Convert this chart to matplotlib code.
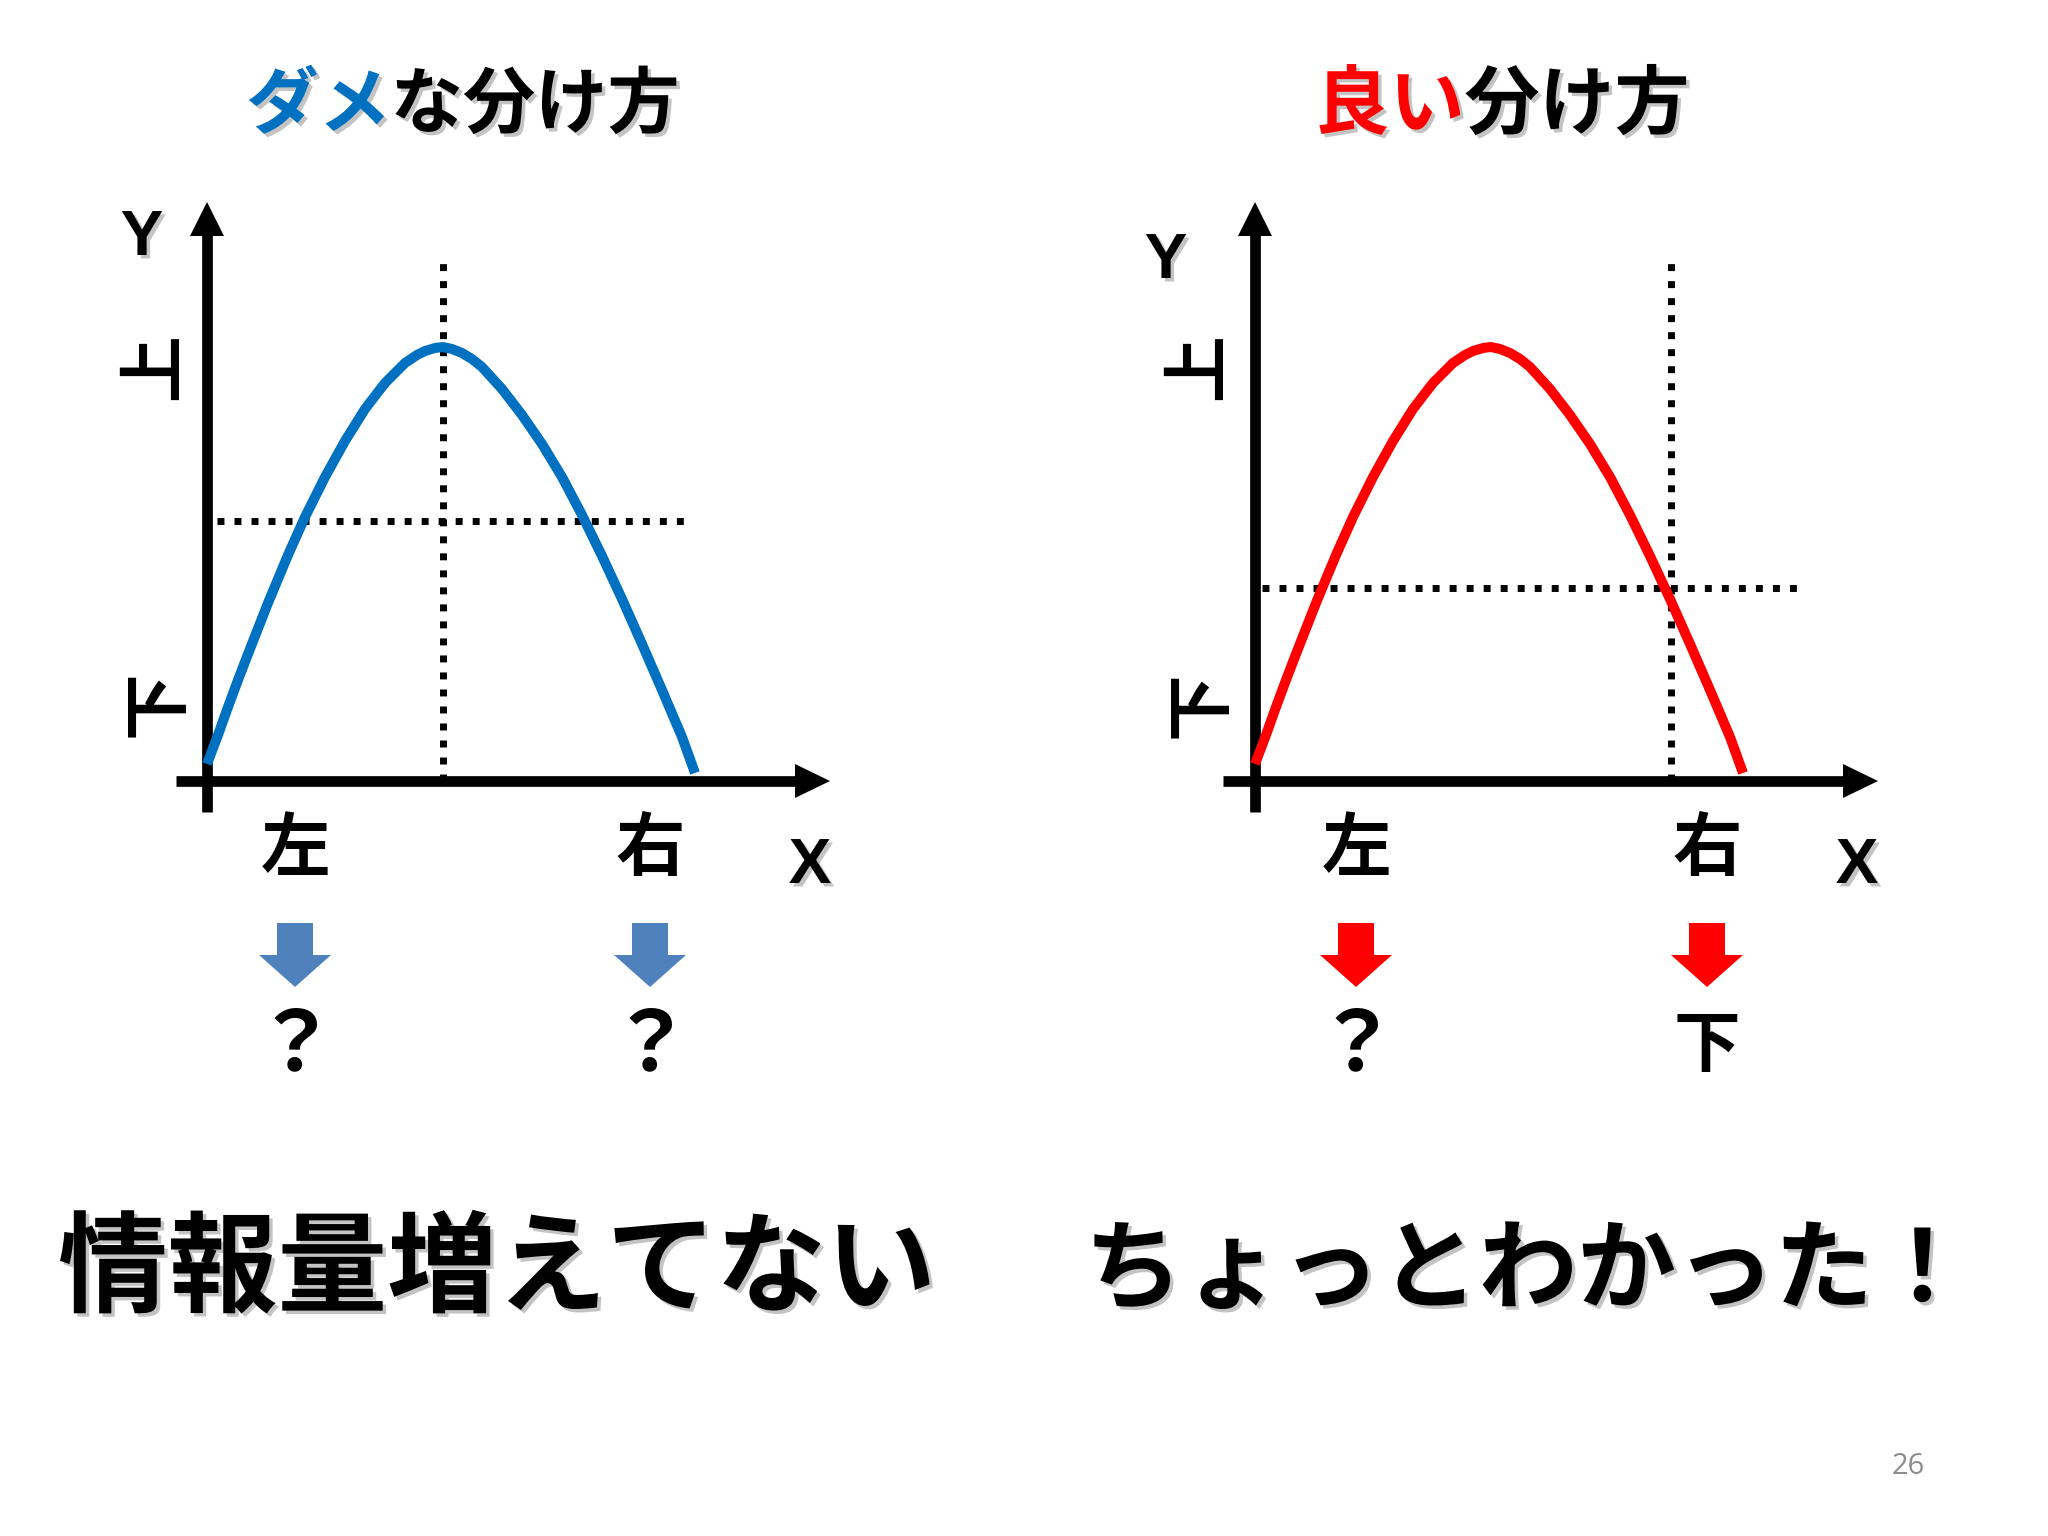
import matplotlib
matplotlib.use("Agg")
import matplotlib.pyplot as plt
import matplotlib.patheffects as pe

# ---------------- data ----------------
titles_bad = [("ダメ", "#0070C0"), ("な分け方", "black")]
titles_good = [("良い", "#FF0000"), ("分け方", "black")]

# curve points relative to the axis origin (x to the right, y upward), pixels
bad_curve_x = [0, 11, 21, 31, 41, 61, 81, 98, 118, 138, 158, 178, 198, 210, 218, 228, 236,
               245, 255, 265, 275, 295, 315, 335, 355, 375, 395, 415, 435, 455, 475, 488]
bad_curve_y = [17, 46, 74, 101, 127, 178, 226, 264, 304, 340, 372, 398, 418, 426, 430, 433, 434,
               432, 428, 422, 414, 392, 366, 337, 304, 266, 225, 182, 137, 91, 44, 8]
good_curve_x = [0, 11, 21, 31, 41, 61, 81, 98, 118, 138, 158, 178, 198, 210, 218, 228, 236,
                245, 255, 265, 275, 295, 315, 335, 355, 375, 395, 415, 435, 455, 475, 488]
good_curve_y = [17, 46, 74, 101, 127, 178, 226, 264, 304, 340, 372, 398, 418, 426, 430, 433, 434,
                432, 428, 422, 414, 392, 366, 337, 304, 266, 225, 182, 137, 91, 44, 8]

bad_split_x = 236.0      # vertical dotted split (left chart)
bad_split_y = 260.0      # horizontal dotted split (left chart)
good_split_x = 416.0     # vertical dotted split (right chart)
good_split_y = 193.0     # horizontal dotted split (right chart)

bad_results = ["？", "？"]
good_results = ["？", "下"]
bottom_left = "情報量増えてない"
bottom_right = "ちょっとわかった！"
page_number = "26"

BLUE = "#0070C0"
RED = "#FF0000"
ARROW_BLUE = "#4F81BD"

CJK = ["Noto Sans CJK JP", "DejaVu Sans"]

fig = plt.figure(figsize=(20.48, 15.36), dpi=100)
fig.patch.set_facecolor("white")
ax = fig.add_axes([0, 0, 1, 1])
ax.set_xlim(0, 2048)
ax.set_ylim(1536, 0)
ax.axis("off")

shadow = [pe.SimplePatchShadow(offset=(2.5, -2.5), alpha=0.35, shadow_rgbFace="#555555"), pe.Normal()]


def draw_panel(ox, oy, cx, cy, color, split_x, split_y, vline_top, hline_x0, hline_x1,
               xaxis_left, xaxis_tip, arrow_color, results, left_lbl_x, right_lbl_x,
               ylab_pos, xlab_pos, up_pos, down_pos):
    # axes lines
    ax.plot([xaxis_left, xaxis_tip - 30], [oy, oy], color="black", lw=7.7, solid_capstyle="butt", zorder=3)
    ax.fill([xaxis_tip - 35, xaxis_tip, xaxis_tip - 35], [oy - 17, oy, oy + 17], color="black", zorder=3, lw=0)
    ytip = 202
    ax.plot([ox, ox], [oy + 31, ytip + 30], color="black", lw=7.7, solid_capstyle="butt", zorder=3)
    ax.fill([ox - 17, ox, ox + 17], [ytip + 34, ytip, ytip + 34], color="black", zorder=3, lw=0)
    # dotted split lines
    dot = dict(color="black", lw=5.0, linestyle=(0, (1.0, 1.45)), dash_capstyle="butt", zorder=2)
    ax.plot([ox + split_x, ox + split_x], [oy, vline_top], **dot)
    ax.plot([hline_x0, hline_x1], [oy - split_y, oy - split_y], **dot)
    # curve
    ax.plot([ox + v for v in cx], [oy - v for v in cy], color=color, lw=7.2,
            solid_joinstyle="round", solid_capstyle="butt", zorder=4)
    # labels
    ax.text(ylab_pos[0], ylab_pos[1], "Y", fontsize=46, fontweight="bold", family="Liberation Sans",
            ha="center", va="center", path_effects=shadow)
    ax.text(xlab_pos[0], xlab_pos[1], "X", fontsize=46, fontweight="bold", family="Liberation Sans",
            ha="center", va="center", path_effects=shadow)
    ax.text(up_pos[0], up_pos[1], "上", fontsize=48, family=CJK, fontweight="bold",
            rotation=90, ha="center", va="center")
    ax.text(down_pos[0], down_pos[1], "下", fontsize=48, family=CJK, fontweight="bold",
            rotation=90, ha="center", va="center")
    for lx, lbl, res in [(left_lbl_x, "左", results[0]), (right_lbl_x, "右", results[1])]:
        ax.text(lx, 850, lbl, fontsize=50, family=CJK, fontweight="bold", ha="center", va="center")
        # block arrow
        ax.fill([lx - 18, lx + 18, lx + 18, lx + 36, lx, lx - 36, lx - 18],
                [923, 923, 955, 955, 987, 955, 955], color=arrow_color, lw=0, zorder=3)
        ax.text(lx, 1046, res, fontsize=48 if res != "？" else 60, family=CJK, fontweight="bold",
                ha="center", va="center")


draw_panel(207, 781, bad_curve_x, bad_curve_y, BLUE, bad_split_x, bad_split_y, 261,
           217, 690, 176, 830, ARROW_BLUE, bad_results, 295, 650,
           (142, 238), (810, 866), (155, 367), (158, 704))
draw_panel(1255, 781, good_curve_x, good_curve_y, RED, good_split_x, good_split_y, 261,
           1262, 1802, 1223, 1878, RED, good_results, 1356, 1707,
           (1166, 261), (1857, 866), (1199, 367), (1201, 705))


def multicolor_title(parts, x_center, y, size):
    fig.canvas.draw()
    r = fig.canvas.get_renderer()
    widths = []
    for s, c in parts:
        t = ax.text(0, 0, s, fontsize=size, family=CJK, fontweight="bold")
        bb = t.get_window_extent(renderer=r)
        widths.append(bb.width)
        t.remove()
    total = sum(widths)
    x = x_center - total / 2
    for (s, c), w in zip(parts, widths):
        ax.text(x, y, s, fontsize=size, family=CJK, fontweight="bold", color=c,
                ha="left", va="center", path_effects=shadow)
        x += w


multicolor_title(titles_bad, 463, 106, 52)
multicolor_title(titles_good, 1502, 106, 54)

ax.text(497, 1272, bottom_left, fontsize=79, family=CJK, fontweight="bold",
        ha="center", va="center", path_effects=shadow)
ax.text(1528, 1272, bottom_right, fontsize=71, family=CJK, fontweight="bold",
        ha="center", va="center", path_effects=shadow)
ax.text(1908, 1466, page_number, fontsize=21, family="Open Sans", color="#8C8C8C",
        ha="center", va="center")

fig.savefig("out.png", dpi=100, facecolor="white")
